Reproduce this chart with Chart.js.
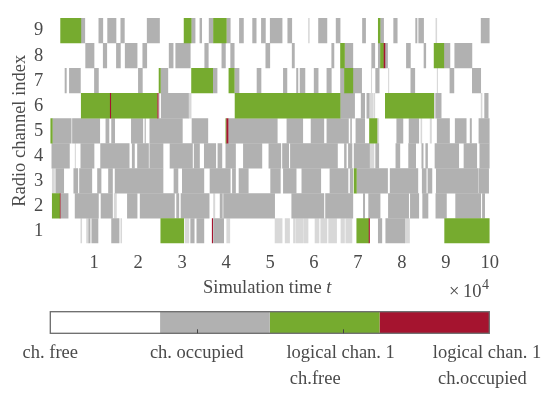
<!DOCTYPE html>
<html>
<head>
<meta charset="utf-8">
<title>Radio channel occupancy</title>
<script src="https://cdn.jsdelivr.net/npm/chart.js@4/dist/chart.umd.min.js"></script>
<style>
    html, body { margin: 0; padding: 0; background: #fff; }
    #page { position: relative; width: 550px; height: 397px; overflow: hidden; }
    canvas { position: absolute; left: 0; filter: blur(0.4px); }
    #mainChart { top: 0; }
    #barChart { top: 300px; }
</style>
</head>
<body>
<div id="page">
    <canvas id="mainChart" width="550" height="300"></canvas>
    <canvas id="barChart" width="640" height="97"></canvas>
</div>
<script>
// Time is in units of 1e4, every pair is [start, end]
const channels = ['9', '8', '7', '6', '5', '4', '3', '2', '1'];
const timeTicks = [1, 2, 3, 4, 5, 6, 7, 8, 9, 10];

const occupiedCh9 = [[0.7,0.79],[1.1,1.2],[1.3,1.5],[1.6,1.69],[2.2,2.49],[3.21,3.3],[3.4,3.45],[3.61,3.71],[4.01,4.1],[4.3,4.4],[4.6,4.69],[4.8,4.9],[5,5.28],[5.4,5.5],[6.1,6.3],[6.5,6.6],[7.1,7.18],[7.51,7.59],[7.81,7.9],[8.31,8.35],[8.38,8.5],[9.8,10]];
const occupiedCh8 = [[0.8,1],[1.2,1.29],[1.5,1.6],[1.7,1.98],[2.1,2.2],[2.7,2.8],[2.85,3.19],[3.51,3.6],[3.9,3.99],[4.1,4.19],[4.9,5],[5.5,5.56],[6.4,6.46],[6.7,6.89],[7.31,7.39],[7.46,7.51],[7.62,7.68],[8.1,8.2],[8.5,8.55],[8.96,9.1],[9.2,9.6]];
const occupiedCh7 = [[0.33,0.37],[0.43,0.69],[1,1.1],[2,2.1],[2.51,2.68],[3.7,3.8],[4.19,4.3],[4.7,4.8],[5.3,5.39],[5.6,5.64],[5.68,5.8],[6,6.1],[6.29,6.4],[6.6,6.69],[6.89,7.09],[7.4,7.49],[8.2,8.3],[9.09,9.19],[9.6,9.8]];
const occupiedCh6 = [[2.52,3.15],[6.6,6.93],[7.07,7.16],[7.2,7.26],[8.77,8.9],[9.88,9.97]];
const occupiedCh5 = [[0.05,0.48],[0.5,1.13],[1.26,1.34],[1.39,1.47],[1.84,2.11],[2.15,2.17],[2.26,3.01],[3.22,3.59],[4.05,5.17],[5.38,5.75],[5.93,6.23],[6.29,6.79],[6.83,6.86],[6.95,7.16],[7.88,8.03],[8.16,8.39],[8.8,9.09],[9.21,9.47],[9.55,9.59],[9.75,10]];
const occupiedCh4 = [[0.03,0.44],[0.69,1],[1.14,1.8],[1.86,1.92],[1.98,2.24],[2.26,2.57],[2.72,3.24],[3.27,3.4],[3.5,3.77],[3.81,3.91],[3.99,4.22],[4.39,4.82],[4.97,5.25],[5.28,5.43],[5.46,6.54],[6.69,6.74],[6.78,6.87],[6.91,7.27],[7.4,7.48],[7.86,7.96],[8.15,8.32],[8.45,8.49],[8.54,8.59],[8.75,9.3],[9.41,9.71],[9.77,10]];
const occupiedCh3 = [[0.12,0.31],[0.53,0.63],[0.66,0.95],[1.07,1.16],[1.32,1.42],[1.47,2.57],[2.81,2.91],[3,3.5],[3.63,4.1],[4.14,4.22],[4.29,4.51],[5.01,5.24],[5.3,5.6],[5.72,6.16],[6.36,6.78],[6.82,6.89],[6.97,7.68],[7.73,8.37],[8.46,8.56],[8.59,8.69],[8.78,9.74],[9.75,9.98]];
const occupiedCh2 = [[0.23,0.41],[0.56,1.1],[1.15,1.42],[1.75,1.98],[2.04,2.83],[2.87,2.93],[2.97,3.62],[3.86,3.92],[3.94,5.11],[5.49,6.23],[6.26,6.89],[7.12,7.16],[7.24,7.51],[7.69,8.16],[8.19,8.39],[8.47,8.6],[8.77,9.02],[9.22,9.8],[9.83,9.89]];
const occupiedCh1 = [[0.87,0.91],[0.94,1.09],[1.39,1.57],[3.19,3.28],[3.33,3.5],[3.71,3.95],[7.46,7.55],[7.63,8.07]];

// Short flickers that only show up as pale stripes: [channel, start, end]
const briefOccupied = [
    ['9',5.87,5.9],['9',8.77,8.8],
    ['7',7.3,7.32],['7',7.69,7.71],['7',8.8,8.82],
    ['6',2.46,2.49],['6',3.15,3.21],['6',7.26,7.35],['6',7.36,7.39],['6',8.73,8.77],['6',9.8,9.83],
    ['5',7.44,7.48],['5',8.43,8.46],['5',8.64,8.68],
    ['4',0.56,0.58],['4',7.27,7.37],
    ['3',0.04,0.1],
    ['2',1.45,1.51],['2',3.71,3.75],
    ['1',0.69,0.72],['1',0.82,0.87],['1',1.6,1.63],['1',3.06,3.16],['1',4.01,4.09],
    ['1',5.11,5.28],['1',5.34,5.45],['1',5.53,5.57],['1',5.58,5.75],['1',5.76,5.87],
    ['1',6.02,6.12],['1',6.15,6.3],['1',6.33,6.52],['1',6.61,6.7],['1',6.72,6.87],['1',8.07,8.18]
];

const logicalFree = [
    ['9',0.23,0.7],['9',3.04,3.21],['9',3.71,4.01],['9',7.46,7.51],
    ['8',6.6,6.7],['8',7.51,7.59],['8',8.73,8.96],
    ['7',2.47,2.51],['7',3.21,3.7],['7',4.06,4.19],['7',6.69,6.89],
    ['6',0.7,1.36],['6',1.38,2.44],['6',4.2,6.6],['6',7.62,8.73],
    ['5',0,0.05],['5',3.99,4.01],['5',7.26,7.44],
    ['3',6.91,6.97],
    ['2',0.04,0.22],
    ['1',2.51,3.04],['1',6.97,7.25],['1',8.97,10]
];

const logicalOccupied = [
    ['8',7.59,7.62],
    ['6',1.36,1.38],['6',2.44,2.46],
    ['5',4.01,4.05],
    ['2',0.22,0.23],
    ['1',3.68,3.7],['1',7.25,7.27]
];

// Colorbar
const colorbarEdges = [0, 0.75, 1.5, 2.25, 3];
const colorbarColors = ['#ffffff', '#b1b1b1', '#76ab2f', '#a5142f'];
const colorbarTicks = [0, 1, 2, 3];
const colorbarLabels = [
    'ch. free',
    'ch. occupied',
    ['logical chan. 1 ', 'ch.free            '],
    ['logical chan. 1 ', 'ch.occupied   ']
];

const textColor = '#4a4a4a';
const serif = '"Liberation Serif", "Times New Roman", serif';
const labelFont = { family: serif, size: 18.5 };

Chart.defaults.animation = false;
Chart.defaults.font.family = serif;
Chart.defaults.color = textColor;

function toBars(channel, spans) {
    return spans.map(s => ({ x: [s[0], s[1]], y: channel }));
}

function fromList(list) {
    return list.map(item => ({ x: [item[1], item[2]], y: item[0] }));
}

function timeDataset(label, data, color) {
    return {
        label: label,
        data: data,
        backgroundColor: color,
        borderWidth: 0,
        inflateAmount: 0.12,
        grouped: false,
        barPercentage: 1,
        categoryPercentage: 1
    };
}

// Axis label with the italic t and the x10^4 multiplier, the built-in title cannot mix styles
const axisText = {
    id: 'axisText',
    afterDraw(chart) {
        const ctx = chart.ctx;
        const plain = '18.5px ' + serif;
        ctx.save();
        ctx.fillStyle = textColor;
        ctx.textBaseline = 'alphabetic';
        ctx.textAlign = 'left';
        ctx.font = plain;
        ctx.fillText('Simulation time ', 203, 293);
        const w = ctx.measureText('Simulation time ').width;
        ctx.font = 'italic ' + plain;
        ctx.fillText('t', 203 + w, 293);
        ctx.font = plain;
        ctx.fillText('\u00d7', 449, 297);
        ctx.fillText('10', 463, 297);
        ctx.font = '14px ' + serif;
        ctx.fillText('4', 482, 289);
        ctx.restore();
    }
};

// Frame and inward ticks of the colorbar
const colorbarFrame = {
    id: 'colorbarFrame',
    afterDatasetsDraw(chart) {
        const { ctx, chartArea: a, scales } = chart;
        ctx.save();
        ctx.strokeStyle = '#6a6a6a';
        ctx.lineWidth = 1.3;
        ctx.strokeRect(a.left, a.top, a.right - a.left, a.bottom - a.top);
        ctx.strokeStyle = '#444';
        ctx.lineWidth = 1;
        colorbarTicks.slice(1, 3).forEach(v => {
            const x = Math.round(scales.x.getPixelForValue(v)) + 0.5;
            ctx.beginPath();
            ctx.moveTo(x, a.bottom);
            ctx.lineTo(x, a.bottom - 4);
            ctx.stroke();
        });
        ctx.restore();
    }
};

document.addEventListener('DOMContentLoaded', function() {
    initMainChart();
    initColorbar();
});

function initMainChart() {
    const occupied = [].concat(
        toBars('9', occupiedCh9), toBars('8', occupiedCh8), toBars('7', occupiedCh7),
        toBars('6', occupiedCh6), toBars('5', occupiedCh5), toBars('4', occupiedCh4),
        toBars('3', occupiedCh3), toBars('2', occupiedCh2), toBars('1', occupiedCh1)
    );
    new Chart(document.getElementById('mainChart'), {
        type: 'bar',
        data: {
            labels: channels,
            datasets: [
                timeDataset('logical chan. 1 ch.occupied', fromList(logicalOccupied), colorbarColors[3]),
                timeDataset('logical chan. 1 ch.free', fromList(logicalFree), colorbarColors[2]),
                timeDataset('ch. occupied', occupied, colorbarColors[1]),
                timeDataset('ch. occupied (brief)', fromList(briefOccupied), '#d8d8d8')
            ]
        },
        plugins: [axisText],
        options: {
            indexAxis: 'y',
            responsive: false,
            layout: { padding: { top: 16, right: 60.3, left: 0, bottom: 0 } },
            plugins: { legend: { display: false }, tooltip: { enabled: false } },
            scales: {
                x: {
                    type: 'linear',
                    min: 0,
                    max: 10,
                    grid: { display: false, drawTicks: false },
                    border: { display: false },
                    afterBuildTicks: scale => { scale.ticks = timeTicks.map(v => ({ value: v })); },
                    afterFit: scale => { scale.height = 56.5; },
                    ticks: { font: labelFont, padding: 8.5, maxRotation: 0, autoSkip: false }
                },
                y: {
                    type: 'category',
                    grid: { display: false, drawTicks: false },
                    border: { display: false },
                    afterFit: scale => { scale.width = 50.3; },
                    title: {
                        display: true,
                        text: 'Radio channel index',
                        font: labelFont,
                        padding: { top: 9, bottom: 0 }
                    },
                    ticks: { font: labelFont, padding: 7, autoSkip: false }
                }
            }
        }
    });
}

function initColorbar() {
    const segments = colorbarColors.map((color, i) => ({
        label: 'segment ' + (i + 1),
        data: [[colorbarEdges[i], colorbarEdges[i + 1]]],
        backgroundColor: color,
        borderWidth: 0,
        inflateAmount: 0,
        grouped: false,
        barPercentage: 1,
        categoryPercentage: 1
    }));
    // The canvas runs past the page edge so the long last label does not squeeze the scale
    new Chart(document.getElementById('barChart'), {
        type: 'bar',
        data: { labels: ['state'], datasets: segments },
        plugins: [colorbarFrame],
        options: {
            indexAxis: 'y',
            responsive: false,
            layout: { padding: { top: 11.7, left: 50.3, right: 150.7, bottom: 0 } },
            plugins: { legend: { display: false }, tooltip: { enabled: false } },
            scales: {
                x: {
                    type: 'linear',
                    min: 0,
                    max: 3,
                    grid: { display: false, drawTicks: false },
                    border: { display: false },
                    afterBuildTicks: scale => { scale.ticks = colorbarTicks.map(v => ({ value: v })); },
                    afterFit: scale => { scale.height = 63.7; },
                    ticks: {
                        font: { family: serif, size: 18.5, lineHeight: 1.373 },
                        padding: 7.3,
                        maxRotation: 0,
                        autoSkip: false,
                        callback: value => colorbarLabels[colorbarTicks.indexOf(value)]
                    }
                },
                y: { display: false }
            }
        }
    });
}
</script>
</body>
</html>
